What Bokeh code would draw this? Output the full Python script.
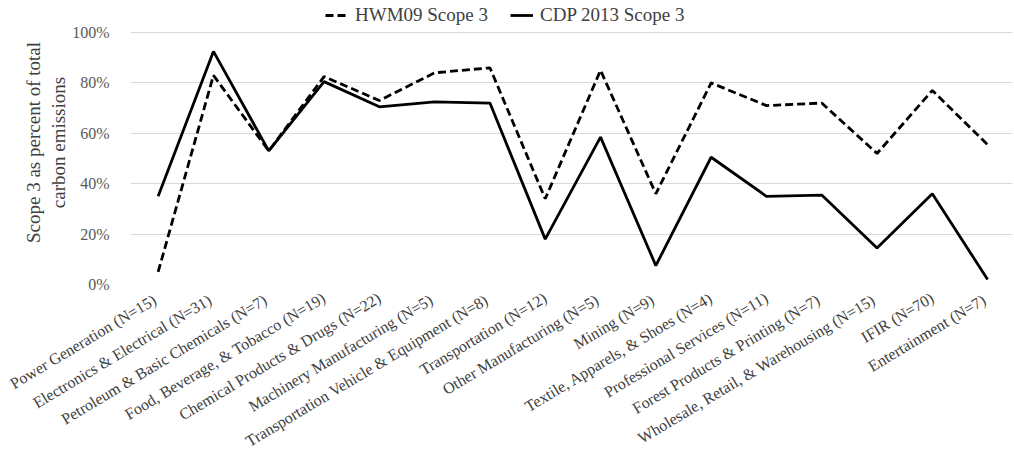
import math
from bokeh.plotting import figure
from bokeh.models import Range1d, FixedTicker, NumeralTickFormatter, Legend, LegendItem
from bokeh.embed import file_html
from bokeh.resources import INLINE

categories = [
    "Power Generation  (N=15)",
    "Electronics & Electrical  (N=31)",
    "Petroleum & Basic Chemicals  (N=7)",
    "Food, Beverage, & Tobacco (N=19)",
    "Chemical Products & Drugs (N=22)",
    "Machinery Manufacturing  (N=5)",
    "Transportation Vehicle & Equipment  (N=8)",
    "Transportation (N=12)",
    "Other Manufacturing  (N=5)",
    "Mining  (N=9)",
    "Textile, Apparels, & Shoes (N=4)",
    "Professional Services (N=11)",
    "Forest Products & Printing  (N=7)",
    "Wholesale, Retail, & Warehousing  (N=15)",
    "IFIR (N=70)",
    "Entertainment  (N=7)",
]
hwm09 = [0.05, 0.83, 0.53, 0.825, 0.73, 0.84, 0.86, 0.34, 0.85, 0.36,
         0.80, 0.71, 0.72, 0.52, 0.77, 0.555]
cdp2013 = [0.35, 0.925, 0.53, 0.805, 0.705, 0.725, 0.72, 0.18, 0.585, 0.075,
           0.505, 0.35, 0.355, 0.145, 0.36, 0.02]
y_ticks = [0, 0.2, 0.4, 0.6, 0.8, 1.0]
series_names = ["HWM09 Scope 3", "CDP 2013 Scope 3"]
y_title = "Scope 3 as percent of total\ncarbon emissions"

FONT = "'Liberation Serif', 'Times New Roman', serif"
xs = list(range(len(categories)))

# frame reaches the top of the picture so the legend can sit above the 100% line
p = figure(width=1014, height=460, output_backend="svg", toolbar_location=None,
           x_range=Range1d(-0.5, 15.45), y_range=Range1d(0, 1.127),
           min_border_left=130, min_border_right=2, min_border_top=0,
           min_border_bottom=171)
p.outline_line_color = None
p.background_fill_color = "white"

r1 = p.line(xs, hwm09, line_color="black", line_width=2.8, line_dash="8 4")
r2 = p.line(xs, cdp2013, line_color="black", line_width=2.8)

legend = Legend(items=[LegendItem(label=series_names[0], renderers=[r1]),
                       LegendItem(label=series_names[1], renderers=[r2])],
                orientation="horizontal", location=(195, 258))
legend.label_text_font = FONT
legend.label_text_font_size = "19px"
legend.label_text_color = "#404040"
legend.glyph_width = 23
legend.glyph_height = 16
legend.label_height = 20
legend.label_standoff = 7
legend.spacing = 22
legend.padding = 0
legend.margin = 0
legend.border_line_color = None
legend.background_fill_alpha = 0
p.add_layout(legend, "center")

p.xgrid.grid_line_color = None
p.ygrid.grid_line_color = "#d9d9d9"
p.ygrid.grid_line_width = 1.2
p.ygrid.ticker = FixedTicker(ticks=y_ticks)

ya = p.yaxis[0]
ya.ticker = FixedTicker(ticks=y_ticks)
ya.formatter = NumeralTickFormatter(format="0%")
ya.axis_line_color = None
ya.major_tick_line_color = None
ya.minor_tick_line_color = None
ya.major_label_text_font = FONT
ya.major_label_text_font_size = "16px"
ya.major_label_text_color = "#595959"
ya.major_label_standoff = 15
ya.axis_label = y_title
ya.axis_label_text_font = FONT
ya.axis_label_text_font_size = "19px"
ya.axis_label_text_font_style = "normal"
ya.axis_label_text_color = "#404040"
ya.axis_label_standoff = 0

xa = p.xaxis[0]
xa.ticker = FixedTicker(ticks=xs)
xa.major_label_overrides = {i: c for i, c in enumerate(categories)}
xa.major_label_orientation = math.radians(31)
xa.axis_line_color = None
xa.major_tick_line_color = None
xa.minor_tick_line_color = None
xa.major_label_text_font = FONT
xa.major_label_text_font_size = "16px"
xa.major_label_text_color = "#404040"
xa.major_label_standoff = 6

open("out.html", "w").write(file_html(p, INLINE))
